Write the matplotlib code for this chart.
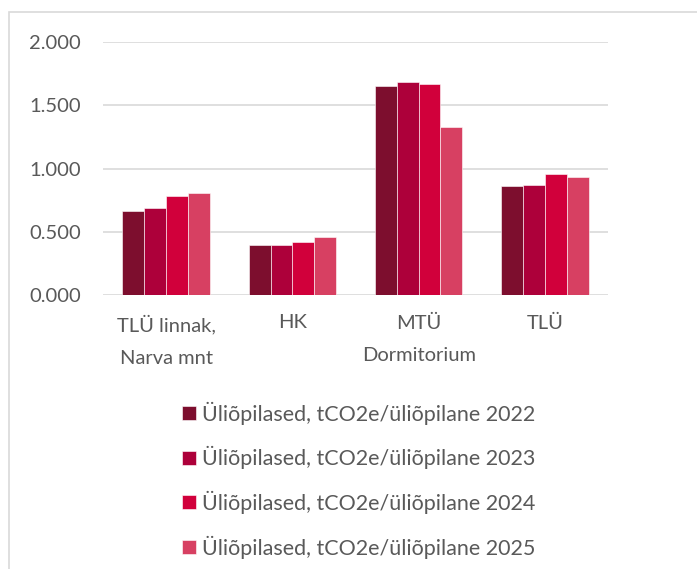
import numpy as np
import matplotlib.pyplot as plt
from matplotlib.patches import Rectangle

categories = ['TLÜ linnak,\nNarva mnt', 'HK', 'MTÜ\nDormitorium', 'TLÜ']
years = ['2022', '2023', '2024', '2025']
v2022 = [0.666, 0.392, 1.656, 0.858]
v2023 = [0.687, 0.392, 1.680, 0.869]
v2024 = [0.782, 0.416, 1.667, 0.953]
v2025 = [0.803, 0.456, 1.332, 0.932]
series = [v2022, v2023, v2024, v2025]
colors = ['#7D0E2E', '#AD003A', '#D1003B', '#D74062']

plt.rcParams['font.family'] = ['Lato', 'DejaVu Sans']
txt = '#595959'
fs = 14.5

W, H = 697, 569
fig = plt.figure(figsize=(W / 100, H / 100), dpi=100)
ax = fig.add_axes([103 / W, 1 - 295 / H, (608 - 103) / W, (295 - 42) / H])

x = np.arange(len(categories))
bw = 0.173
for i, (vals, c) in enumerate(zip(series, colors)):
    ax.bar(x + (i - 1.5) * bw, vals, bw, color=c, edgecolor='white', linewidth=0.4,
           label='Üliõpilased, tCO2e/üliõpilane ' + years[i], zorder=3)

ax.set_xlim(-0.5, len(categories) - 0.5)
ax.set_ylim(0, 2.0)
ticks = [0, 0.5, 1.0, 1.5, 2.0]
ax.set_yticks(ticks)
ax.set_yticklabels([f'{t:.3f}' for t in ticks], color=txt, fontsize=fs)
ax.set_xticks(x)
ax.set_xticklabels(categories, color=txt, fontsize=fs, linespacing=2.1)
ax.tick_params(axis='y', length=0, pad=16)
ax.tick_params(axis='x', length=0, pad=14)
ax.grid(axis='y', color='#D9D9D9', linewidth=1.2, zorder=0)
for s in ax.spines.values():
    s.set_visible(False)
ax.set_axisbelow(True)

leg = fig.legend(loc='upper left', bbox_to_anchor=(163 / W, 1 - 382 / H), frameon=False,
                 fontsize=15.5, labelspacing=1.0, handlelength=0.62, handleheight=0.62,
                 handletextpad=0.3, labelcolor=txt)

fig.patches.append(Rectangle((9 / W, -0.1), 1.2, 1 - 12 / H + 0.1, transform=fig.transFigure,
                             fill=False, edgecolor='#D9D9D9', linewidth=1.2))

fig.savefig('out.png', dpi=100)
